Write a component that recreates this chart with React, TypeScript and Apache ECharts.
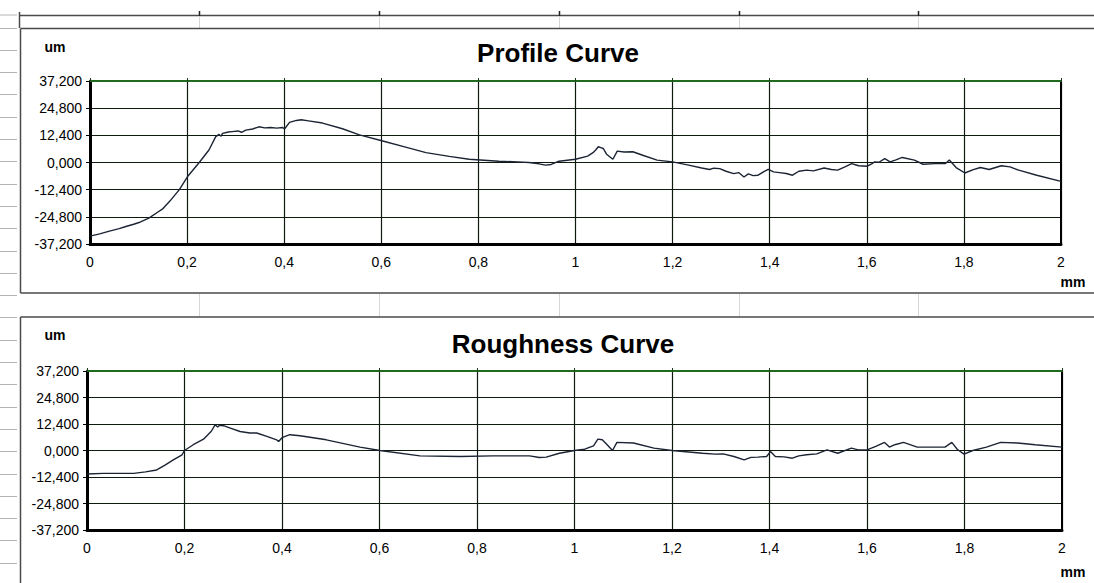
import React, { useEffect, useRef } from "react";
import * as echarts from "echarts";

// ---- Data ----
const yTicksMin = -37.2;
const yTicksMax = 37.2;
const yStep = 12.4;
const xMin = 0;
const xMax = 2;
const xStep = 0.2;

const profileX = [
  0.0, 0.02, 0.04, 0.06, 0.074, 0.09, 0.101, 0.122, 0.14, 0.149, 0.165, 0.184, 0.201, 0.225, 0.245, 0.259,
  0.266, 0.27, 0.273, 0.285, 0.293, 0.305, 0.312, 0.321, 0.335, 0.348, 0.36, 0.372, 0.385, 0.396, 0.401,
  0.411, 0.425, 0.435, 0.45, 0.479, 0.52, 0.555, 0.603, 0.65, 0.692, 0.74, 0.781, 0.842, 0.88, 0.904,
  0.925, 0.938, 0.95, 0.966, 1.0, 1.025, 1.036, 1.042, 1.047, 1.052, 1.057, 1.064, 1.077, 1.086, 1.1,
  1.118, 1.14, 1.168, 1.2, 1.233, 1.26, 1.276, 1.285, 1.297, 1.31, 1.326, 1.336, 1.347, 1.356, 1.366,
  1.376, 1.388, 1.397, 1.408, 1.42, 1.434, 1.447, 1.46, 1.476, 1.49, 1.512, 1.527, 1.54, 1.555, 1.569,
  1.583, 1.601, 1.61, 1.616, 1.625, 1.637, 1.648, 1.66, 1.673, 1.698, 1.716, 1.74, 1.762, 1.77, 1.784,
  1.802, 1.818, 1.834, 1.852, 1.877, 1.895, 1.913, 1.95, 2.0,
];
const profileY = [
  -33.6, -32.6, -31.3, -30.2, -29.2, -28.2, -27.4, -25.3, -22.6, -21.3, -17.5, -12.4, -6.4, 0.0, 5.7, 11.8,
  12.8, 12.0, 13.3, 13.9, 14.1, 14.4, 13.8, 14.8, 15.3, 16.3, 15.8, 16.0, 15.7, 16.0, 15.4,
  18.3, 19.2, 19.5, 19.0, 18.0, 15.4, 12.6, 9.8, 7.0, 4.5, 2.8, 1.5, 0.6, 0.3, 0.0,
  -0.6, -1.2, -0.9, 0.6, 1.5, 2.9, 4.5, 5.8, 7.2, 6.8, 6.4, 3.8, 1.5, 5.2, 4.8,
  4.9, 3.2, 1.1, 0.3, -1.2, -2.5, -3.2, -2.6, -2.8, -4.0, -5.1, -4.6, -6.6, -5.2, -6.0,
  -5.8, -4.2, -3.1, -4.3, -4.6, -5.0, -5.8, -4.0, -3.5, -3.8, -2.5, -3.2, -3.5, -2.0, -0.5,
  -1.5, -1.7, -0.6, 0.3, 0.1, 1.8, 0.3, 1.2, 2.3, 1.1, -0.8, -0.5, -0.5, 1.1, -2.3,
  -4.8, -3.4, -2.3, -3.2, -1.5, -2.0, -3.5, -5.8, -8.6,
];

const roughX = [
  0.0, 0.034, 0.096, 0.12, 0.143, 0.16, 0.177, 0.195, 0.2, 0.218, 0.239, 0.255, 0.263, 0.268, 0.272, 0.28,
  0.294, 0.314, 0.334, 0.348, 0.369, 0.389, 0.393, 0.4, 0.416, 0.437, 0.491, 0.56, 0.601, 0.683, 0.765,
  0.833, 0.908, 0.928, 0.942, 0.969, 1.0, 1.021, 1.032, 1.039, 1.048, 1.057, 1.067, 1.078, 1.087, 1.121,
  1.163, 1.2, 1.263, 1.288, 1.305, 1.327, 1.348, 1.362, 1.376, 1.394, 1.402, 1.412, 1.43, 1.447, 1.46,
  1.476, 1.497, 1.518, 1.54, 1.568, 1.582, 1.6, 1.618, 1.636, 1.646, 1.657, 1.675, 1.703, 1.76, 1.774,
  1.785, 1.799, 1.817, 1.845, 1.874, 1.909, 1.945, 2.0,
];
const roughY = [
  -11.0, -10.7, -10.7, -10.0, -9.1, -6.8, -4.4, -2.0, 0.0, 2.7, 5.3, 9.0, 12.1, 11.0, 11.8, 11.6,
  10.5, 8.9, 8.2, 8.2, 6.6, 5.0, 4.2, 6.0, 7.4, 6.9, 5.0, 1.6, 0.0, -2.5, -2.8,
  -2.5, -2.5, -3.3, -3.1, -1.3, 0.0, 0.6, 1.6, 2.2, 5.3, 5.0, 2.7, 0.0, 3.8, 3.5,
  1.1, 0.0, -1.3, -1.7, -1.6, -2.8, -4.4, -3.2, -3.1, -2.8, -0.5, -2.8, -3.0, -3.6, -2.5,
  -2.0, -1.6, 0.3, -1.3, 1.1, 0.3, 0.3, 1.9, 3.8, 1.6, 2.7, 3.8, 1.6, 1.6, 3.8,
  0.6, -1.7, 0.0, 1.6, 3.8, 3.5, 2.7, 1.6,
];

const titles = ["Profile Curve", "Roughness Curve"];
const yUnit = "um";
const xUnit = "mm";

// ---- styling ----
const FONT = "'Liberation Sans', Arial, sans-serif";
const GRID_COLOR = "#0f1a0f";
const TOP_COLOR = "#1f6a1f";
const CURVE_COLOR = "#1c2433";

const fmtY = (v: number) => v.toFixed(3).replace(".", ",");
const fmtX = (v: number) => String(Math.round(v * 10) / 10).replace(".", ",");

function makeAxes(gi: number) {
  const xBottom = {
    type: "value",
    gridIndex: gi,
    position: "bottom",
    min: xMin,
    max: xMax,
    interval: xStep,
    axisLine: { onZero: false, lineStyle: { color: "#000", width: 3 } },
    axisTick: { show: false },
    axisLabel: { color: "#000", fontSize: 14, fontFamily: FONT, margin: 11, formatter: fmtX },
    splitLine: { show: true, lineStyle: { color: GRID_COLOR, width: 1.2 } },
  };
  const xTop = {
    type: "value",
    gridIndex: gi,
    position: "top",
    min: xMin,
    max: xMax,
    interval: xStep,
    axisLine: { onZero: false, lineStyle: { color: TOP_COLOR, width: 2 } },
    axisTick: { show: true, inside: false, length: 3, lineStyle: { color: "#1a3a1a", width: 1 } },
    axisLabel: { show: false },
    splitLine: { show: false },
  };
  const yLeft = {
    type: "value",
    gridIndex: gi,
    position: "left",
    min: yTicksMin,
    max: yTicksMax,
    interval: yStep,
    axisLine: { show: true, onZero: false, lineStyle: { color: "#000", width: 3 } },
    axisTick: { show: true, inside: false, length: 4, lineStyle: { color: "#000", width: 1 } },
    axisLabel: { color: "#000", fontSize: 14, fontFamily: FONT, margin: 8, formatter: fmtY },
    splitLine: { show: true, lineStyle: { color: GRID_COLOR, width: 1.2 } },
  };
  const yRight = {
    type: "value",
    gridIndex: gi,
    position: "right",
    min: yTicksMin,
    max: yTicksMax,
    interval: yStep,
    axisLine: { show: true, onZero: false, lineStyle: { color: "#000", width: 2 } },
    axisTick: { show: false },
    axisLabel: { show: false },
    splitLine: { show: false },
  };
  return { xs: [xBottom, xTop], ys: [yLeft, yRight] };
}

function buildGraphics() {
  const els: any[] = [];
  const gray = "#b4b4b4";
  const dark = "#4a4a4a";
  // spreadsheet row marks on the far left
  const rows = [15];
  for (let y = 27.5; y < 583; y += 22.3) rows.push(Math.round(y) + 0.5);
  rows.forEach((y) =>
    els.push({ type: "line", shape: { x1: 0, y1: y, x2: 17, y2: y }, style: { stroke: gray, lineWidth: 1 }, silent: true })
  );
  // top strip
  els.push({ type: "line", shape: { x1: 19, y1: 15.5, x2: 1094, y2: 15.5 }, style: { stroke: dark, lineWidth: 1.5 }, silent: true });
  els.push({ type: "line", shape: { x1: 19.5, y1: 12, x2: 19.5, y2: 28 }, style: { stroke: dark, lineWidth: 1.5 }, silent: true });
  const cols = [199.5, 379.5, 559.5, 739.5, 918.5];
  cols.forEach((x) => {
    els.push({ type: "line", shape: { x1: x, y1: 11, x2: x, y2: 16 }, style: { stroke: "#222", lineWidth: 1.5 }, silent: true });
    els.push({ type: "line", shape: { x1: x, y1: 16, x2: x, y2: 28 }, style: { stroke: "#d6d6d6", lineWidth: 1 }, silent: true });
    els.push({ type: "line", shape: { x1: x, y1: 294, x2: x, y2: 317 }, style: { stroke: "#d6d6d6", lineWidth: 1 }, silent: true });
  });
  // panel frames
  els.push({ type: "line", shape: { x1: 20.5, y1: 28.5, x2: 1094, y2: 28.5 }, style: { stroke: dark, lineWidth: 1.5 }, silent: true });
  els.push({ type: "line", shape: { x1: 20.5, y1: 28.5, x2: 20.5, y2: 293 }, style: { stroke: dark, lineWidth: 1.5 }, silent: true });
  els.push({ type: "line", shape: { x1: 20.5, y1: 293, x2: 1094, y2: 293 }, style: { stroke: dark, lineWidth: 1.5 }, silent: true });
  els.push({ type: "line", shape: { x1: 20.5, y1: 317, x2: 1094, y2: 317 }, style: { stroke: dark, lineWidth: 1.5 }, silent: true });
  els.push({ type: "line", shape: { x1: 20.5, y1: 317, x2: 20.5, y2: 583 }, style: { stroke: dark, lineWidth: 1.5 }, silent: true });

  // titles and units
  const titleY = [53, 344];
  const titleX = [558, 563];
  titles.forEach((t, i) => {
    els.push({
      type: "text",
      x: titleX[i],
      y: titleY[i],
      style: { text: t, fontSize: 26, fontWeight: "bold", fontFamily: FONT, fill: "#000", align: "center", verticalAlign: "middle" },
      silent: true,
    });
  });
  [47, 335].forEach((y) =>
    els.push({
      type: "text",
      x: 55,
      y,
      style: { text: yUnit, fontSize: 14, fontWeight: "bold", fontFamily: FONT, fill: "#000", align: "center", verticalAlign: "middle" },
      silent: true,
    })
  );
  [282, 572].forEach((y) =>
    els.push({
      type: "text",
      x: 1073,
      y,
      style: { text: xUnit, fontSize: 14, fontWeight: "bold", fontFamily: FONT, fill: "#000", align: "center", verticalAlign: "middle" },
      silent: true,
    })
  );
  return els;
}

export default function App() {
  const ref = useRef<HTMLDivElement>(null);
  useEffect(() => {
    document.body.style.margin = "0";
    if (!ref.current) return;
    const chart = echarts.init(ref.current, undefined, { renderer: "svg" });
    const a0 = makeAxes(0);
    const a1 = makeAxes(1);
    const pData = profileX.map((x, i) => [x, profileY[i]]);
    const rData = roughX.map((x, i) => [x, roughY[i]]);
    chart.setOption({
      animation: false,
      backgroundColor: "#ffffff",
      grid: [
        { left: 90, top: 81, width: 971, height: 163 },
        { left: 87, top: 371, width: 975, height: 159 },
      ],
      xAxis: [...a0.xs, ...a1.xs],
      yAxis: [...a0.ys, ...a1.ys],
      series: [
        {
          name: titles[0],
          type: "line",
          xAxisIndex: 0,
          yAxisIndex: 0,
          data: pData,
          showSymbol: false,
          symbol: "none",
          lineStyle: { color: CURVE_COLOR, width: 1.4 },
          z: 5,
        },
        {
          name: titles[1],
          type: "line",
          xAxisIndex: 2,
          yAxisIndex: 2,
          data: rData,
          showSymbol: false,
          symbol: "none",
          lineStyle: { color: CURVE_COLOR, width: 1.4 },
          z: 5,
        },
      ],
      graphic: buildGraphics(),
    });
    return () => chart.dispose();
  }, []);
  return <div ref={ref} style={{ position: "absolute", left: 0, top: 0, width: 1094, height: 583 }} />;
}
